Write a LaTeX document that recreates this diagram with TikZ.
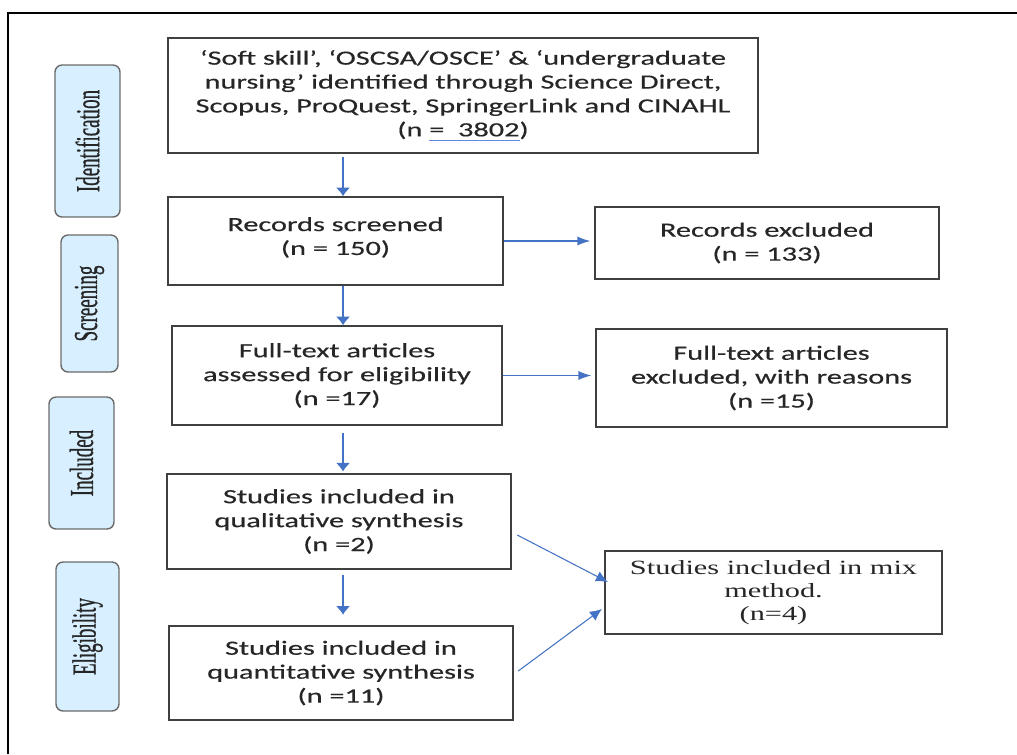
\documentclass[tikz,border=0pt]{standalone}
\usepackage{fontspec}
\setsansfont{Carlito}[FakeBold=0.3]
\newfontfamily\serifrm{Liberation Serif}
\newfontfamily\stagefont{Liberation Serif}[FakeBold=0.9]
\usetikzlibrary{arrows.meta,calc}

\definecolor{arrowblue}{HTML}{4472C4}
\definecolor{lineblue}{HTML}{5B8BDE}
\definecolor{stagefill}{HTML}{D7EFFF}
\definecolor{stageline}{HTML}{6B6B6B}
\definecolor{boxline}{HTML}{404040}
\definecolor{inkgray}{HTML}{262626}

\newlength{\ulwd}
\newcommand{\blueul}[1]{\settowidth{\ulwd}{#1}\rlap{\color{lineblue}\rule[-2.6pt]{\ulwd}{0.75pt}}#1}
\newcommand{\stagetext}[1]{\scalebox{0.85}[1]{\stagefont\fontsize{12.7}{14}\selectfont #1}}

\tikzset{
  box/.style={draw=boxline, line width=0.9pt, align=center, inner sep=0pt, text=inkgray,
    font=\sffamily\fontsize{11.5}{13.6}\selectfont},
  stage/.style={draw=stageline, fill=stagefill, line width=0.8pt, rounded corners=4pt,
    rotate=90, inner sep=0pt, text=inkgray},
  arrv/.style={draw=arrowblue, line width=0.7pt, -{Latex[length=1.7mm,width=2.8mm]}},
  arrh/.style={draw=arrowblue, line width=0.7pt, -{Latex[length=2.6mm,width=1.8mm]}},
  arrd/.style={draw=arrowblue, line width=0.6pt, -{Latex[length=2.4mm,width=2.2mm]}},
}

\begin{document}
\begin{tikzpicture}[x=0.013333cm, y=-0.02cm, xscale=1.5, transform shape]
  \useasboundingbox (0,0) rectangle (1017,754);
  \draw[line width=1.6pt] (8,754) -- (8,13) -- (1017,13);

  % stage labels
  \node[stage, minimum width=3.04cm, minimum height=0.867cm] (ident) at (87.5,141) {\stagetext{Identification}};
  \node[stage, minimum width=2.74cm, minimum height=0.76cm] (screen) at (89.5,303.5) {\stagetext{Screening}};
  \node[stage, minimum width=2.64cm, minimum height=0.867cm] (incl) at (81.5,463) {\stagetext{Included}};
  \node[stage, minimum width=2.98cm, minimum height=0.84cm] (elig) at (87.5,636.5) {\stagetext{Eligibility}};

  % flow boxes
  \node[box, minimum width=7.867cm, minimum height=2.3cm] (src) at (463,95.5)
    {‘Soft skill’, ‘OSCSA/OSCE’ \& ‘undergraduate\\ nursing’ identified through Science Direct,\\ Scopus, ProQuest, SpringerLink and CINAHL\\ (n \blueul{= \ 3802})};
  \node[box, minimum width=4.467cm, minimum height=1.76cm] (scr) at (335.5,241) {Records screened\\ (n = 150)\\[-7.9pt]\mbox{}};
  \node[box, minimum width=4.587cm, minimum height=1.44cm] (exc1) at (767,243) {Records excluded\\ (n = 133)};
  \node[box, minimum width=4.4cm, minimum height=1.98cm] (full) at (337,375.5) {Full-text articles\\ assessed for eligibility\\ (n =17)};
  \node[box, minimum width=4.68cm, minimum height=1.96cm] (exc2) at (771.5,378) {Full-text articles\\ excluded, with reasons\\ (n =15)};
  \node[box, minimum width=4.587cm, minimum height=1.9cm] (qual) at (339,521.5) {Studies included in\\ qualitative synthesis\\ (n =2)};
  \node[box, minimum width=4.493cm, minimum height=1.66cm, font=\serifrm\fontsize{11.5}{13}\selectfont] (mix) at (773.5,592.5) {Studies included in mix\\ method.\\ (n=4)};
  \node[box, minimum width=4.587cm, minimum height=1.88cm] (quant) at (341,673) {Studies included in\\ quantitative synthesis\\ (n =11)};

  % arrows
  \coordinate (col) at (343,0);
  \draw[arrv, shorten <=2pt] (src.south -| col) -- (scr.north -| col);
  \draw[arrv] (scr.south -| col) -- (full.north -| col);
  \draw[arrv, shorten <=4pt, shorten >=1pt] (full.south -| col) -- (qual.north -| col);
  \draw[arrv, shorten <=3pt, shorten >=6pt] (qual.south -| col) -- (quant.north -| col);
  \draw[arrh, shorten >=2pt] (scr.east) -- (scr.east -| exc1.west);
  \draw[arrh, shorten >=2pt] (full.east) -- (full.east -| exc2.west);
  \draw[arrd] ($(qual.east)+(5,13.5)$) -- ($(mix.west)+(4,-10.5)$);
  \draw[arrd] ($(quant.east)+(4,-2)$) -- ($(mix.west)+(-2,16.5)$);
\end{tikzpicture}
\end{document}
